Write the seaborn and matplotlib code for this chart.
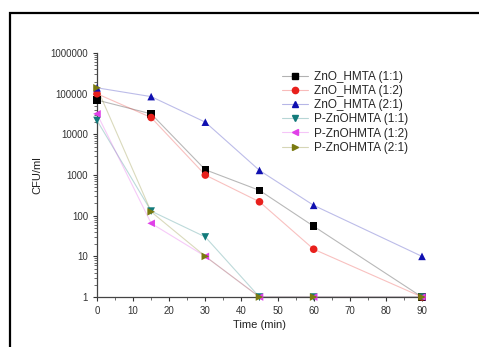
import seaborn as sns
import pandas as pd
import matplotlib.pyplot as plt
from matplotlib.patches import Rectangle
from matplotlib.lines import Line2D
from matplotlib.colors import to_rgba
from matplotlib.ticker import LogLocator, FixedLocator, NullFormatter

time = [0, 15, 30, 45, 60, 90]
zno_11 = [70000, 32000, 1350, 420, 55, 1]
zno_12 = [100000, 26000, 1000, 220, 15, 1]
zno_21 = [140000, 85000, 20000, 1300, 180, 10]
p_11 = [22000, 130, 30, 1, 1, 1]
p_12 = [32000, 65, 10, 1, 1, 1]
p_21 = [140000, 125, 10, 1, 1, 1]

names = ['ZnO_HMTA (1:1)', 'ZnO_HMTA (1:2)', 'ZnO_HMTA (2:1)',
         'P-ZnOHMTA (1:1)', 'P-ZnOHMTA (1:2)', 'P-ZnOHMTA (2:1)']
series = [zno_11, zno_12, zno_21, p_11, p_12, p_21]
colors = ['#000000', '#e8201c', '#1010b0', '#127a7a', '#e040e8', '#7a7a10']
markers = ['s', 'o', '^', 'v', '<', '>']

rows = []
for n, s in zip(names, series):
    for t, v in zip(time, s):
        rows.append([n, t, v])
df = pd.DataFrame(rows, columns=['Sample', 'Time', 'CFU'])

sns.set_style("ticks")
plt.rcParams['font.family'] = ['Liberation Sans', 'DejaVu Sans']

fig = plt.figure(figsize=(4.79, 3.47), dpi=100)
ax = fig.add_axes([0.2025, 0.144, 0.6785, 0.703])

# thin pale connecting lines, then markers on top
for n, c in zip(names, colors):
    d = df[df['Sample'] == n]
    ax.plot(d['Time'], d['CFU'], color=to_rgba(c, 0.28), lw=0.8, zorder=2, clip_on=False)
sns.scatterplot(data=df, x='Time', y='CFU', hue='Sample', style='Sample',
                palette=colors, markers=markers, hue_order=names, style_order=names,
                s=30, edgecolor='none', legend=False, ax=ax, zorder=3, clip_on=False)

ax.set_yscale('log')
ax.set_xlim(0, 90)
ax.set_ylim(1, 1000000)
ax.xaxis.set_major_locator(FixedLocator(range(0, 91, 10)))
ax.xaxis.set_minor_locator(FixedLocator(range(5, 91, 10)))
ax.yaxis.set_major_locator(FixedLocator([1, 10, 100, 1000, 10000, 100000, 1000000]))
ax.set_yticklabels(['1', '10', '100', '1000', '10000', '100000', '1000000'])
ax.yaxis.set_minor_locator(LogLocator(base=10, subs=range(2, 10)))
ax.yaxis.set_minor_formatter(NullFormatter())
ax.tick_params(axis='both', which='major', labelsize=7, length=3, width=0.8,
               direction='out', colors='#333333')
ax.tick_params(axis='both', which='minor', length=2, width=0.6, direction='out', colors='#555555')
for sp in ['top', 'right']:
    ax.spines[sp].set_visible(False)
for sp in ['left', 'bottom']:
    ax.spines[sp].set_color('#444444')
    ax.spines[sp].set_linewidth(0.9)

ax.set_xlabel('Time (min)', fontsize=8, color='#222222', labelpad=3)
ax.set_ylabel('CFU/ml', fontsize=8, color='#222222', labelpad=6)

handles = [Line2D([0], [0], color=to_rgba(c, 0.3), lw=0.8, marker=m, markersize=4.5,
                  markerfacecolor=c, markeredgecolor=c)
           for c, m in zip(colors, markers)]
ax.legend(handles, names, loc='upper right', bbox_to_anchor=(0.99, 0.97), frameon=False,
          fontsize=8.5, handlelength=2.2, handletextpad=0.5, labelspacing=0.18)

# black frame of the screenshot
fig.patches.append(Rectangle((10 / 479, -0.05), 1.2, 1 - 13 / 347 + 0.05,
                             transform=fig.transFigure, fill=False,
                             edgecolor='black', lw=1.6))

fig.savefig('out.png', dpi=100)
